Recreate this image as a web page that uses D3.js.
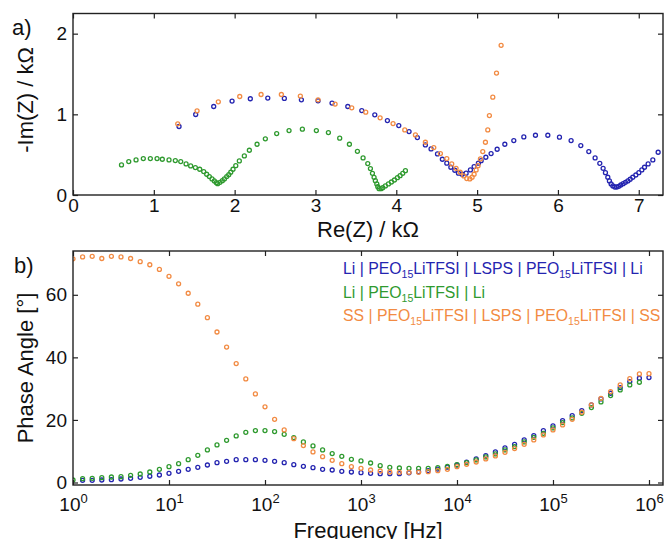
<!DOCTYPE html>
<html>
  <head>
    <meta charset="utf-8">
    <title>Impedance spectra</title>
    <script src="https://cdn.jsdelivr.net/npm/d3@7"></script>
    <style>
      body { margin: 0; background: #fff; }
      svg { display: block; font-family: "Liberation Sans", Arial, sans-serif; }
      .axis text { font-size: 19px; fill: #111; }
      .axis line { stroke: #222; stroke-width: 1.2; }
      .axis path { display: none; }
      .frame { fill: none; stroke: #222; stroke-width: 1.4; }
      .label { font-size: 22px; fill: #111; }
      .pt { fill: none; stroke-width: 1.3; }
      .legend { font-size: 15.8px; }
    </style>
  </head>

  <body>
    <svg id="chart" width="665" height="539"></svg>

    <script>
      // series names + colours
      const seriesNames = ["blue", "green", "orange"];
      const seriesColors = { blue: "#2424b0", green: "#2f9a2f", orange: "#f28b43" };
      const legendLabels = [
        "Li | PEO{15}LiTFSI | LSPS | PEO{15}LiTFSI | Li",
        "Li | PEO{15}LiTFSI | Li",
        "SS | PEO{15}LiTFSI | LSPS | PEO{15}LiTFSI | SS"
      ];

      // nyquist data: [Re(Z), -Im(Z)] in kOhm
      const nyqBlue = [
        [1.312,0.849],[1.518,0.998],[1.741,1.097],[1.968,1.164],[2.194,1.193],[2.41,1.201],[2.615,1.197],
        [2.826,1.18],[3.032,1.168],[3.205,1.139],[3.40,1.097],[3.573,1.047],[3.734,0.994],[3.89,0.923],
        [4.031,0.861],[4.158,0.786],[4.261,0.712],[4.36,0.621],[4.43,0.571],[4.51,0.509],[4.57,0.443],
        [4.625,0.394],[4.675,0.344],[4.724,0.307],[4.769,0.27],[4.814,0.257],[4.864,0.27],[4.917,0.311],
        [4.963,0.352],[5.016,0.394],[5.05,0.426],[5.108,0.468],[5.173,0.513],[5.248,0.567],[5.343,0.629],
        [5.454,0.675],[5.578,0.72],[5.722,0.741],[5.875,0.741],[6.019,0.717],[6.163,0.675],[6.283,0.613],
        [6.382,0.538],[6.46,0.46],[6.518,0.393],[6.559,0.331],[6.588,0.277],[6.617,0.22],[6.637,0.174],
        [6.658,0.137],[6.68,0.112],[6.704,0.099],[6.729,0.099],[6.753,0.108],[6.778,0.124],[6.807,0.14],
        [6.835,0.157],[6.865,0.174],[6.894,0.195],[6.926,0.22],[6.964,0.248],[7.001,0.277],[7.038,0.311],
        [7.071,0.344],[7.116,0.385],[7.174,0.435],[7.24,0.53]
      ];
      const nyqGreen = [
        [0.60,0.373],[0.69,0.414],[0.78,0.435],[0.87,0.451],[0.957,0.451],[1.04,0.451],[1.105,0.443],
        [1.188,0.435],[1.266,0.427],[1.333,0.414],[1.399,0.385],[1.456,0.36],[1.514,0.34],[1.568,0.319],
        [1.617,0.29],[1.654,0.257],[1.687,0.228],[1.72,0.199],[1.749,0.174],[1.774,0.153],[1.79,0.14],
        [1.819,0.157],[1.848,0.178],[1.873,0.199],[1.902,0.228],[1.927,0.252],[1.952,0.282],[1.98,0.319],
        [2.014,0.364],[2.058,0.422],[2.12,0.484],[2.182,0.555],[2.277,0.629],[2.38,0.696],[2.52,0.762],
        [2.673,0.799],[2.838,0.816],[3.011,0.799],[3.16,0.774],[3.30,0.704],[3.42,0.629],[3.519,0.542],
        [3.589,0.46],[3.647,0.389],[3.68,0.327],[3.705,0.269],[3.725,0.219],[3.741,0.178],[3.759,0.137],
        [3.771,0.103],[3.787,0.078],[3.812,0.078],[3.833,0.091],[3.865,0.112],[3.903,0.137],[3.94,0.161],
        [3.977,0.186],[4.014,0.215],[4.047,0.24],[4.08,0.269],[4.113,0.302]
      ];
      const nyqOrange = [
        [1.296,0.882],[1.535,1.043],[1.798,1.155],[2.063,1.221],[2.327,1.246],[2.578,1.246],[2.813,1.226],
        [3.032,1.18],[3.243,1.127],[3.449,1.081],[3.622,1.027],[3.80,0.957],[3.96,0.886],[4.105,0.807],
        [4.237,0.745],[4.36,0.654],[4.464,0.588],[4.546,0.513],[4.625,0.451],[4.686,0.385],[4.74,0.331],
        [4.79,0.282],[4.835,0.236],[4.872,0.203],[4.91,0.199],[4.938,0.22],[4.963,0.257],[4.988,0.311],
        [5.012,0.364],[5.041,0.447],[5.07,0.538],[5.103,0.654],[5.132,0.807],[5.152,0.985],[5.194,1.213],
        [5.24,1.511],[5.297,1.855]
      ];

      // bode data: frequency sweep 1 Hz .. 1 MHz, 10 points per decade
      const freqs = d3.range(61).map(function(i) { return Math.pow(10, i / 10); });
      const phaseBlue = [
        null,0.69,0.69,0.8,0.91,1.12,1.33,1.65,2.0,2.4,2.93,3.57,4.21,4.85,5.6,6.35,6.77,7.31,7.31,7.31,7.09,
        6.77,6.35,5.71,5.17,4.75,4.21,4.0,3.57,3.36,3.15,2.93,2.83,2.83,2.83,3.1,3.4,3.8,4.3,4.9,5.6,
        6.5,7.52,8.59,9.76,11.04,12.21,13.6,14.99,16.59,18.08,19.79,21.39,22.99,24.8,26.72,28.53,30.35,32.27,33.33,33.55
      ];
      const phaseGreen = [
        0.8,1.23,1.33,1.55,1.76,1.87,2.29,2.72,3.36,4.21,5.07,6.03,7.31,8.69,10.4,12.0,13.49,14.88,16.05,16.59,16.59,
        16.27,15.41,14.35,12.96,11.68,10.4,9.23,8.37,7.41,6.88,6.24,5.39,4.85,4.64,4.53,4.53,4.53,4.75,5.17,5.71,
        6.35,7.2,8.16,9.12,10.4,11.47,12.96,14.45,15.73,17.44,19.15,20.64,22.13,23.95,25.76,27.79,29.6,31.2,32.05,null
      ];
      const phaseOrange = [
        71.5,72.1,72.3,71.6,72.3,72.1,71.6,70.6,69.6,68.1,65.9,63.5,60.5,57.0,52.7,48.1,43.3,38.0,33.1,28.3,24.2,
        20.2,16.8,14.0,11.79,9.76,8.27,7.09,6.03,5.07,4.53,4.0,3.68,3.36,3.25,3.25,3.25,3.47,3.79,4.21,5.07,
        5.81,6.56,7.52,8.48,9.65,10.83,12.21,13.6,15.2,16.8,18.4,20.2,22.45,24.8,26.9,29.07,31.2,33.2,34.7,34.8
      ];

      const nyquist = { blue: nyqBlue, green: nyqGreen, orange: nyqOrange };
      const phase = { blue: phaseBlue, green: phaseGreen, orange: phaseOrange };

      // elements
      const chart = d3.select("#chart");
      chart.append("rect").attr("width", 665).attr("height", 539).attr("fill", "#fff");

      const boxA = { left: 73, right: 663, top: 13.5, bottom: 195 };
      const boxB = { left: 73, right: 663, top: 251, bottom: 485 };

      const r = 2;

      // ---- panel a: nyquist
      const xA = d3.scaleLinear().domain([0, 7.3]).range([boxA.left, boxA.right]);
      const yA = d3.scaleLinear().domain([0, 2.25]).range([boxA.bottom, boxA.top]);

      chart.append("clipPath").attr("id", "clipA")
        .append("rect")
          .attr("x", boxA.left).attr("y", boxA.top)
          .attr("width", boxA.right - boxA.left).attr("height", boxA.bottom - boxA.top);

      const gA = chart.append("g").attr("clip-path", "url(#clipA)");
      seriesNames.forEach(function(s) {
        gA.selectAll(".pt-a-" + s)
          .data(nyquist[s])
          .enter().append("circle")
            .attr("class", "pt")
            .attr("cx", function(d) { return xA(d[0]); })
            .attr("cy", function(d) { return yA(d[1]); })
            .attr("r", r)
            .attr("stroke", seriesColors[s]);
      });

      chart.append("g").attr("class", "axis")
        .attr("transform", "translate(0," + boxA.bottom + ")")
        .call(d3.axisBottom(xA).tickValues(d3.range(0, 8)).tickSize(-5).tickPadding(4).tickFormat(d3.format("d")));
      chart.append("g").attr("class", "axis")
        .attr("transform", "translate(0," + boxA.top + ")")
        .call(d3.axisTop(xA).tickValues(d3.range(0, 8)).tickSize(-5).tickFormat(""));
      chart.append("g").attr("class", "axis")
        .attr("transform", "translate(" + boxA.left + ",0)")
        .call(d3.axisLeft(yA).tickValues([0, 1, 2]).tickSize(-5).tickPadding(6).tickFormat(d3.format("d")));
      chart.append("g").attr("class", "axis")
        .attr("transform", "translate(" + boxA.right + ",0)")
        .call(d3.axisRight(yA).tickValues([0, 1, 2]).tickSize(-5).tickFormat(""));

      chart.append("rect").attr("class", "frame")
        .attr("x", boxA.left).attr("y", boxA.top)
        .attr("width", boxA.right - boxA.left).attr("height", boxA.bottom - boxA.top);

      chart.append("text").attr("class", "label")
        .attr("x", (boxA.left + boxA.right) / 2).attr("y", 237)
        .attr("text-anchor", "middle")
        .text("Re(Z) / kΩ");
      chart.append("text").attr("class", "label")
        .attr("transform", "translate(33," + 100 + ") rotate(-90)")
        .attr("text-anchor", "middle")
        .text("-Im(Z) / kΩ");
      chart.append("text").attr("class", "label")
        .attr("x", 12).attr("y", 35)
        .text("a)");

      // ---- panel b: phase angle
      const xB = d3.scaleLog().domain([1, Math.pow(10, 6.146)]).range([boxB.left, boxB.right]);
      const yB = d3.scaleLinear().domain([-0.8, 74]).range([boxB.bottom, boxB.top]);

      chart.append("clipPath").attr("id", "clipB")
        .append("rect")
          .attr("x", boxB.left).attr("y", boxB.top)
          .attr("width", boxB.right - boxB.left).attr("height", boxB.bottom - boxB.top);

      const gB = chart.append("g").attr("clip-path", "url(#clipB)");
      seriesNames.forEach(function(s) {
        const pts = freqs.map(function(f, i) { return { f: f, v: phase[s][i] }; })
          .filter(function(d) { return d.v !== null; });
        gB.selectAll(".pt-b-" + s)
          .data(pts)
          .enter().append("circle")
            .attr("class", "pt")
            .attr("cx", function(d) { return xB(d.f); })
            .attr("cy", function(d) { return yB(d.v); })
            .attr("r", r)
            .attr("stroke", seriesColors[s]);
      });

      const decades = d3.range(0, 7).map(function(k) { return Math.pow(10, k); });

      const xAxisB = chart.append("g").attr("class", "axis")
        .attr("transform", "translate(0," + boxB.bottom + ")")
        .call(d3.axisBottom(xB).tickValues(decades).tickSize(-5).tickPadding(13).tickFormat(""));
      // 10^k labels
      xAxisB.selectAll(".tick text").each(function(d) {
        const t = d3.select(this);
        t.append("tspan").text("10");
        t.append("tspan").attr("dy", -8).style("font-size", "13px").text(Math.round(Math.log10(d)));
      });
      chart.append("g").attr("class", "axis")
        .attr("transform", "translate(0," + boxB.top + ")")
        .call(d3.axisTop(xB).tickValues(decades).tickSize(-5).tickFormat(""));
      chart.append("g").attr("class", "axis")
        .attr("transform", "translate(" + boxB.left + ",0)")
        .call(d3.axisLeft(yB).tickValues([0, 20, 40, 60]).tickSize(-5).tickPadding(6));
      chart.append("g").attr("class", "axis")
        .attr("transform", "translate(" + boxB.right + ",0)")
        .call(d3.axisRight(yB).tickValues([0, 20, 40, 60]).tickSize(-5).tickFormat(""));

      chart.append("rect").attr("class", "frame")
        .attr("x", boxB.left).attr("y", boxB.top)
        .attr("width", boxB.right - boxB.left).attr("height", boxB.bottom - boxB.top);

      chart.append("text").attr("class", "label")
        .attr("x", (boxB.left + boxB.right) / 2).attr("y", 538)
        .attr("text-anchor", "middle")
        .text("Frequency [Hz]");
      chart.append("text").attr("class", "label")
        .attr("transform", "translate(33," + (boxB.top + boxB.bottom) / 2 + ") rotate(-90)")
        .attr("text-anchor", "middle")
        .text("Phase Angle [°]");
      chart.append("text").attr("class", "label")
        .attr("x", 14).attr("y", 273)
        .text("b)");

      // legend (text only, coloured)
      const legend = chart.append("g").attr("class", "legend");
      legendLabels.forEach(function(lbl, i) {
        const t = legend.append("text")
          .attr("x", 343).attr("y", 274 + i * 23.5)
          .attr("fill", seriesColors[seriesNames[i]]);
        const parts = lbl.split(/\{(\d+)\}/);
        parts.forEach(function(p, j) {
          if (j % 2 === 1) {
            t.append("tspan").attr("dy", 4).style("font-size", "10.5px").text(p);
          } else {
            t.append("tspan").attr("dy", j > 0 ? -4 : 0).text(p);
          }
        });
      });
    </script>
  </body>
</html>
